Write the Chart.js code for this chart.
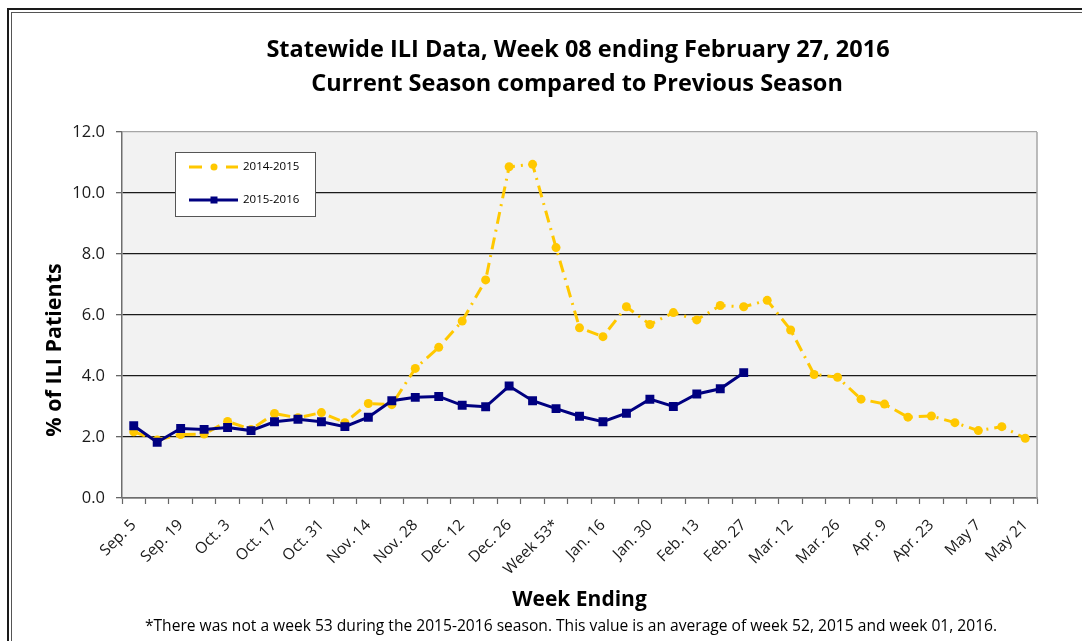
<!DOCTYPE html>
<html>
<head>
<meta charset="utf-8">
<script src="https://cdn.jsdelivr.net/npm/chart.js@4.4.1/dist/chart.umd.min.js"></script>
<style>
html,body{margin:0;padding:0;background:#fff;}
#wrap{width:1082px;height:641px;position:relative;}
</style>
</head>
<body>
<div id="wrap"><canvas id="c" width="1082" height="641"></canvas></div>
<script>
const categories = ['Sep. 5','Sep. 12','Sep. 19','Sep. 26','Oct. 3','Oct. 10','Oct. 17','Oct. 24','Oct. 31','Nov. 7',
  'Nov. 14','Nov. 21','Nov. 28','Dec. 5','Dec. 12','Dec. 19','Dec. 26','Jan. 2','Week 53*','Jan. 9',
  'Jan. 16','Jan. 23','Jan. 30','Feb. 6','Feb. 13','Feb. 20','Feb. 27','Mar. 5','Mar. 12','Mar. 19',
  'Mar. 26','Apr. 2','Apr. 9','Apr. 16','Apr. 23','Apr. 30','May 7','May 14','May 21'];
const tickLabels = ['Sep. 5','Sep. 19','Oct. 3','Oct. 17','Oct. 31','Nov. 14','Nov. 28','Dec. 12','Dec. 26','Week 53*',
  'Jan. 16','Jan. 30','Feb. 13','Feb. 27','Mar. 12','Mar. 26','Apr. 9','Apr. 23','May 7','May 21'];
const season2014_2015 = [2.17,1.90,2.08,2.10,2.51,2.25,2.77,2.63,2.80,2.47,
  3.10,3.06,4.25,4.94,5.80,7.15,10.86,10.94,8.21,5.58,
  5.29,6.27,5.69,6.08,5.84,6.31,6.27,6.48,5.51,4.05,
  3.96,3.24,3.08,2.65,2.69,2.47,2.21,2.34,1.96];
const season2015_2016 = [2.37,1.83,2.28,2.25,2.31,2.21,2.50,2.58,2.50,2.34,
  2.65,3.19,3.30,3.33,3.04,2.99,3.67,3.19,2.93,2.68,
  2.50,2.78,3.24,3.00,3.41,3.58,4.11];
const yTicks = [0,2,4,6,8,10,12];
const titleLines = ['Statewide ILI Data, Week 08 ending February 27, 2016','Current Season compared to Previous Season'];
const yAxisTitle = '% of ILI Patients';
const xAxisTitle = 'Week Ending';
const footnote = '*There was not a week 53 during the 2015-2016 season. This value is an average of week 52, 2015 and week 01, 2016.';
const seriesNames = ['2014-2015','2015-2016'];

const YELLOW = '#FFC800';
const NAVY = '#000080';
const DASH = [12,6,2,6];
const FONT = "'Open Sans', 'Noto Sans', sans-serif";

const decor = {
  id: 'decor',
  beforeDraw(chart) {
    const {ctx, chartArea: a, width, height} = chart;
    ctx.save();
    ctx.fillStyle = '#ffffff';
    ctx.fillRect(0, 0, width, height);
    ctx.strokeStyle = '#1a1a1a';
    ctx.lineWidth = 2;
    ctx.strokeRect(8, 9, width + 40, height + 40);
    ctx.lineWidth = 1;
    ctx.strokeStyle = '#555';
    ctx.strokeRect(11.5, 12.5, width + 40, height + 40);
    ctx.fillStyle = '#f2f2f2';
    ctx.fillRect(a.left, a.top, a.right - a.left, a.bottom - a.top);
    ctx.restore();
  },
  beforeDatasetsDraw(chart) {
    const {ctx, chartArea: a} = chart;
    ctx.save();
    ctx.strokeStyle = '#a6a6a6';
    ctx.lineWidth = 1.5;
    ctx.beginPath();
    ctx.moveTo(a.right, a.top);
    ctx.lineTo(a.right, a.bottom);
    ctx.stroke();
    ctx.restore();
  },
  afterDraw(chart) {
    const {ctx} = chart;
    ctx.save();
    // Title
    ctx.fillStyle = '#000';
    ctx.textAlign = 'center';
    ctx.textBaseline = 'middle';
    ctx.font = 'bold 23.5px ' + FONT;
    ctx.fillText(titleLines[0], 578, 50);
    ctx.fillText(titleLines[1], 577, 84);
    // Y axis title
    ctx.save();
    ctx.translate(55, 350);
    ctx.rotate(-Math.PI / 2);
    ctx.font = 'bold 21.5px ' + FONT;
    ctx.fillText(yAxisTitle, 0, 0);
    ctx.restore();
    // Footnote
    ctx.font = '15.6px ' + FONT;
    ctx.fillText(footnote, 571, 627);
    // Legend
    const bx = 175, by = 152, bw = 140, bh = 64;
    ctx.fillStyle = '#ffffff';
    ctx.fillRect(bx, by, bw, bh);
    ctx.strokeStyle = '#555';
    ctx.lineWidth = 1;
    ctx.strokeRect(bx + 0.5, by + 0.5, bw, bh);
    const y1 = 167, y2 = 200;
    ctx.strokeStyle = YELLOW;
    ctx.lineWidth = 3;
    ctx.beginPath();
    ctx.moveTo(189, y1); ctx.lineTo(202, y1);
    ctx.moveTo(226, y1); ctx.lineTo(238, y1);
    ctx.stroke();
    ctx.fillStyle = YELLOW;
    ctx.beginPath();
    ctx.arc(214, y1, 3.5, 0, Math.PI * 2);
    ctx.fill();
    ctx.strokeStyle = NAVY;
    ctx.beginPath();
    ctx.moveTo(189, y2); ctx.lineTo(238, y2);
    ctx.stroke();
    ctx.fillStyle = NAVY;
    ctx.fillRect(210.5, y2 - 3.5, 7, 7);
    ctx.fillStyle = '#000';
    ctx.textAlign = 'left';
    ctx.font = '11.5px ' + FONT;
    ctx.fillText(seriesNames[0], 243, y1);
    ctx.fillText(seriesNames[1], 243, y2);
    ctx.restore();
  }
};

new Chart(document.getElementById('c'), {
  type: 'line',
  data: {
    labels: categories,
    datasets: [
      {
        label: seriesNames[1],
        data: season2015_2016,
        order: 1,
        borderColor: NAVY,
        backgroundColor: NAVY,
        borderWidth: 3,
        pointStyle: 'rect',
        pointRadius: 6.3,
        pointBorderWidth: 0,
        pointBackgroundColor: NAVY,
        tension: 0,
        fill: false
      },
      {
        label: seriesNames[0],
        data: season2014_2015,
        order: 2,
        borderColor: YELLOW,
        backgroundColor: YELLOW,
        borderWidth: 3,
        borderDash: DASH,
        pointStyle: 'circle',
        pointRadius: 4.5,
        pointBorderWidth: 0,
        pointBackgroundColor: YELLOW,
        tension: 0,
        fill: false
      }
    ]
  },
  options: {
    responsive: false,
    animation: false,
    devicePixelRatio: 1,
    layout: { padding: { left: 36, right: 45, top: 132, bottom: 20 } },
    plugins: {
      legend: { display: false },
      title: { display: false },
      tooltip: { enabled: false }
    },
    scales: {
      x: {
        type: 'category',
        offset: true,
        grid: {
          offset: true,
          drawOnChartArea: false,
          drawTicks: true,
          tickLength: 6,
          tickColor: '#666',
          tickWidth: 1.2
        },
        border: { color: '#6e6e6e', width: 1.5 },
        ticks: {
          autoSkip: false,
          maxRotation: 45,
          minRotation: 45,
          padding: 12,
          color: '#1a1a1a',
          font: { family: FONT, size: 15.5 },
          callback(value, index) {
            const lab = categories[index];
            return tickLabels.includes(lab) ? lab : '';
          }
        },
        title: {
          display: true,
          text: xAxisTitle,
          color: '#000',
          font: { family: FONT, size: 21, weight: 'bold' },
          padding: { top: 0, bottom: 8 }
        },
        afterFit(scale) { scale.height = 123; }
      },
      y: {
        min: 0,
        max: 12,
        afterBuildTicks(scale) { scale.ticks = yTicks.map(v => ({ value: v })); },
        grid: {
          color(ctx) { return ctx.tick && ctx.tick.value === 12 ? '#a6a6a6' : '#1a1a1a'; },
          lineWidth: 1.3,
          drawTicks: true,
          tickLength: 6,
          tickColor: '#666'
        },
        border: { color: '#6e6e6e', width: 1.5 },
        ticks: {
          padding: 11,
          color: '#1a1a1a',
          font: { family: FONT, size: 16.5 },
          callback(v) { return Number(v).toFixed(1); }
        },
        title: { display: false },
        afterFit(scale) { scale.width = 86; }
      }
    }
  },
  plugins: [decor]
});
</script>
</body>
</html>
